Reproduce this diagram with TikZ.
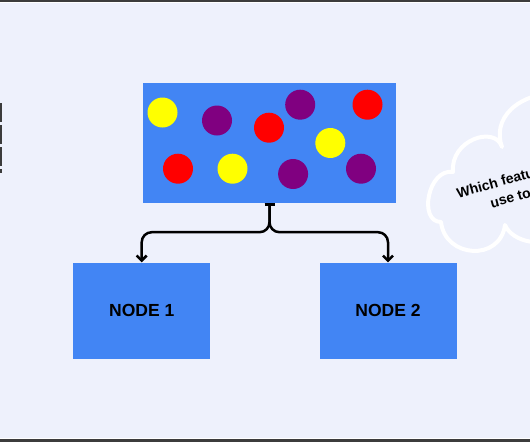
\documentclass[tikz,border=0pt]{standalone}
\usepackage{fontspec}
\setmainfont{Liberation Sans}
\usetikzlibrary{arrows.meta}
\definecolor{bgc}{RGB}{238,241,252}
\definecolor{gblue}{RGB}{66,133,244}
\definecolor{cyel}{RGB}{255,255,0}
\definecolor{cpur}{RGB}{128,0,128}
\definecolor{cred}{RGB}{255,0,0}
\definecolor{edgec}{RGB}{60,60,60}
\tikzset{
  bluebox/.style={fill=gblue, draw=none, inner sep=0pt, font=\bfseries\fontsize{17.5}{20}\selectfont},
  link/.style={line width=2.5pt, rounded corners=10pt, {Bar[width=10pt,line width=2.5pt]}-{Straight Barb[length=5pt,width=10pt,line width=2.5pt]}},
  dot/.style={radius=15pt},
  cloudline/.style={draw=white, line width=4pt, line join=round},
  cloudtext/.style={font=\bfseries\fontsize{14}{16}\selectfont, anchor=base west, inner sep=0pt, rotate=15.5}
}
\begin{document}
\begin{tikzpicture}[x=1pt,y=-1pt]
\useasboundingbox (0,0) rectangle (530,442);
\clip (0,0) rectangle (530,442);
\fill[bgc] (0,0) rectangle (530,442);
% top and bottom edges
\fill[edgec] (0,0) rectangle (530,1.6);
\fill[white] (0,1.6) rectangle (530,3.2);
\fill[white] (0,437.6) rectangle (530,439.4);
\fill[edgec] (0,439.4) rectangle (530,442);
% left dashed remnant
\draw[edgec, line width=1.6pt, dash pattern=on 19pt off 3pt] (0.8,103) -- (0.8,173);
% boxes
\node[bluebox, minimum width=253pt, minimum height=120pt] (top) at (269.5,143) {};
\node[bluebox, minimum width=137pt, minimum height=96pt] (n1) at (141.7,310.5) {NODE 1};
\node[bluebox, minimum width=137pt, minimum height=96pt] (n2) at (388,310.5) {NODE 2};
% dots
\fill[cyel] (162.5,112.5) circle[dot];
\fill[cpur] (217,120.5) circle[dot];
\fill[cred] (269,127.7) circle[dot];
\fill[cpur] (300.2,104.7) circle[dot];
\fill[cred] (367.5,104.7) circle[dot];
\fill[cyel] (330.3,143) circle[dot];
\fill[cred] (178,168.7) circle[dot];
\fill[cyel] (232.5,168.7) circle[dot];
\fill[cpur] (293.1,174) circle[dot];
\fill[cpur] (361,168.7) circle[dot];
% connectors
\draw[link] (top.south) -- ++(0,29) -| (n1.north);
\draw[link] (top.south) -- ++(0,29) -| (n2.north);
% cloud
\coordinate (cA) at (453,172);
\coordinate (cB) at (441,222);
\coordinate (cC) at (505,225);
\coordinate (cD) at (502,147);
\coordinate (cF) at (565,92);
\coordinate (cG) at (565,232);
\draw[cloudline] (cG) .. controls (545,250) and (512,242) .. (cC)
  .. controls (500,262) and (445,258) .. (cB)
  .. controls (418,222) and (428,168) .. (cA)
  .. controls (450,140) and (495,125) .. (cD)
  .. controls (492,120) and (515,92) .. (cF);
\node[cloudtext] (q1) at (458.3,198.3) {Which feature};
\node[cloudtext] (q2) at (491.7,208.3) {use to split?};
\end{tikzpicture}
\end{document}
